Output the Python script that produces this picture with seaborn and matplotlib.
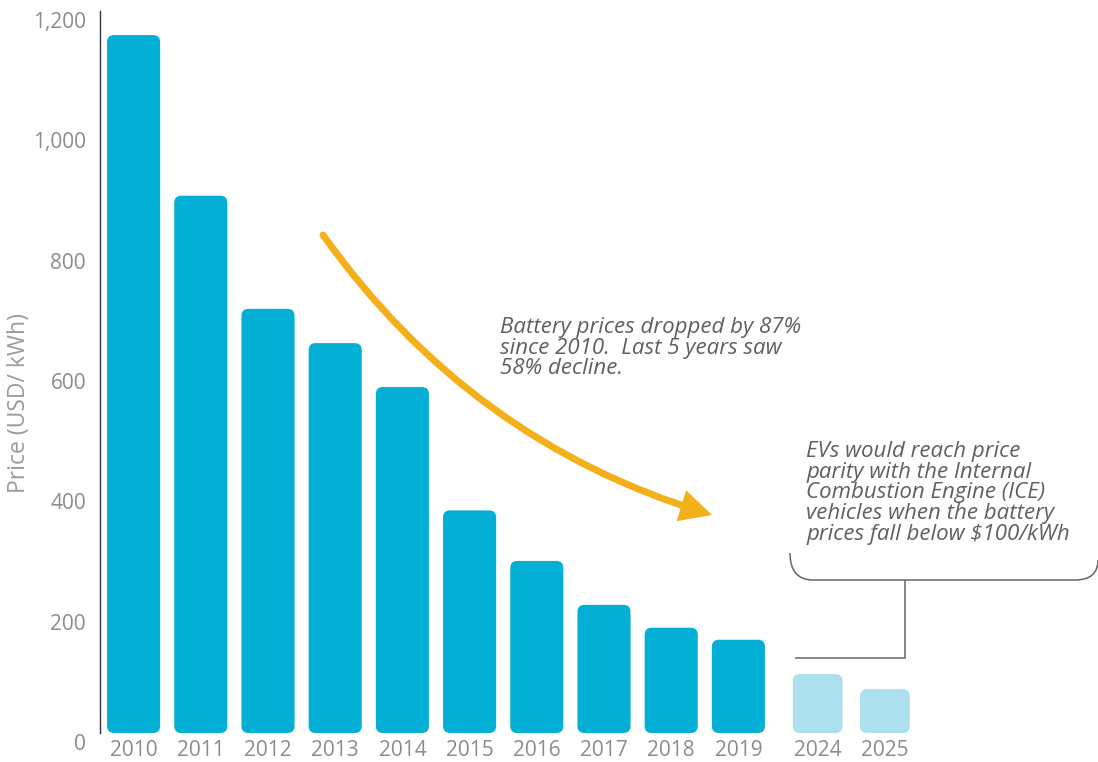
import numpy as np
import pandas as pd
import matplotlib
matplotlib.use("Agg")
import matplotlib.pyplot as plt
import seaborn as sns
from matplotlib.patches import FancyBboxPatch, FancyArrowPatch, PathPatch
from matplotlib.path import Path
from matplotlib.transforms import ScaledTranslation

# Lithium-ion battery pack prices (USD/kWh); last two years are outlook values
years = ["2010", "2011", "2012", "2013", "2014", "2015", "2016", "2017",
         "2018", "2019", "2024", "2025"]
prices = [1160, 893, 705, 648, 575, 370, 286, 213, 175, 155, 98, 73]
is_forecast = [False] * 10 + [True] * 2
ytick_values = [0, 200, 400, 600, 800, 1000, 1200]
ytick_labels = ["0", "200", "400", "600", "800", "1,000", "1,200"]

ACTUAL = "#03AFD5"
FORECAST = "#ADE0EE"
ARROW = "#F4B01A"
NOTE = "#606060"
AXIS_TEXT = "#8c8c8c"
LINE = "#666666"

sns.set_theme(style="white")
plt.rcParams["font.family"] = ["Open Sans", "DejaVu Sans"]

W, H = 1098, 762
fig = plt.figure(figsize=(W / 100, H / 100), dpi=100)


def fx(px):
    return px / W


def fy(py):
    return 1 - py / H


ax = fig.add_axes([fx(100), fy(733), fx(1098) - fx(100), (733 - 11) / H])

df = pd.DataFrame({
    "year": years,
    "price": prices,
    "kind": np.where(is_forecast, "forecast", "actual"),
})
sns.barplot(data=df, x="year", y="price", hue="kind",
            palette={"actual": ACTUAL, "forecast": FORECAST},
            dodge=False, width=0.79, saturation=1, legend=False, ax=ax)

# outlook bars sit a little apart from the historical ones
pos = np.arange(len(years)) + 0.18 * np.array(is_forecast, dtype=float)
ax.set_xlim(-0.5, -0.5 + 998 / 67.2)
ax.set_ylim(0, 1200)

fig.canvas.draw()
sx = ax.transData.transform((1, 0))[0] - ax.transData.transform((0, 0))[0]
sy = ax.transData.transform((0, 1))[1] - ax.transData.transform((0, 0))[1]
radius_px = 7

for p in list(ax.patches):
    center = p.get_x() + p.get_width() / 2
    i = int(round(center))
    w = 0.74 if is_forecast[i] else 0.79
    h = p.get_height()
    rounded = FancyBboxPatch((pos[i] - w / 2, 0), w, h,
                             boxstyle=f"round,pad=0,rounding_size={radius_px / sx}",
                             mutation_aspect=sx / sy,
                             facecolor=p.get_facecolor(), edgecolor="none",
                             zorder=2)
    p.remove()
    ax.add_patch(rounded)

ax.set_xticks(pos, years)
ax.set_yticks(ytick_values, ytick_labels)
ax.set_xlabel("")
ax.set_ylabel("")

for side in ["top", "right", "bottom"]:
    ax.spines[side].set_visible(False)
ax.spines["left"].set_color("#333333")
ax.spines["left"].set_linewidth(1.0)

ax.tick_params(axis="x", length=0, pad=5, labelsize=15, labelcolor=AXIS_TEXT)
ax.tick_params(axis="y", length=0, pad=10, labelsize=15, labelcolor=AXIS_TEXT)
shift = ScaledTranslation(0, -9 / 100, fig.dpi_scale_trans)
for tick in ax.yaxis.get_major_ticks():
    tick.label1.set_transform(tick.label1.get_transform() + shift)

fig.text(fx(19), fy(403), "Price (USD/ kWh)", rotation=90, ha="center",
         va="center", fontsize=16.5, color="#9a9a9a")

# trend arrow
arrow = FancyArrowPatch((fx(323), fy(235)), (fx(712), fy(515)),
                        transform=fig.transFigure,
                        connectionstyle="arc3,rad=0.17",
                        arrowstyle="-|>,head_length=0.75,head_width=0.38",
                        mutation_scale=20, lw=5, color=ARROW,
                        shrinkA=0, shrinkB=0, capstyle="round",
                        joinstyle="miter", zorder=3)
fig.patches.append(arrow)

fig.text(fx(500), fy(317),
         "Battery prices dropped by 87%\nsince 2010.  Last 5 years saw\n58% decline.",
         ha="left", va="top", fontsize=16, style="italic",
         color=NOTE, linespacing=0.98)

fig.text(fx(806), fy(441),
         "EVs would reach price\nparity with the Internal\nCombustion Engine (ICE)\n"
         "vehicles when the battery\nprices fall below $100/kWh",
         ha="left", va="top", fontsize=16, style="italic",
         color=NOTE, linespacing=0.98, parse_math=False)

# callout bracket under the note, with a leader to the outlook bars
bracket = Path(
    [(fx(790), fy(553)), (fx(790), fy(580)), (fx(813), fy(580)),
     (fx(1075), fy(580)), (fx(1098), fy(580)), (fx(1098), fy(560))],
    [Path.MOVETO, Path.CURVE3, Path.CURVE3, Path.LINETO, Path.CURVE3, Path.CURVE3])
fig.patches.append(PathPatch(bracket, transform=fig.transFigure, fill=False,
                             edgecolor=LINE, lw=1.1))
leader = Path([(fx(905), fy(580)), (fx(905), fy(658)), (fx(795), fy(658))],
              [Path.MOVETO, Path.LINETO, Path.LINETO])
fig.patches.append(PathPatch(leader, transform=fig.transFigure, fill=False,
                             edgecolor=LINE, lw=1.1))

fig.savefig("out.png", dpi=100)
